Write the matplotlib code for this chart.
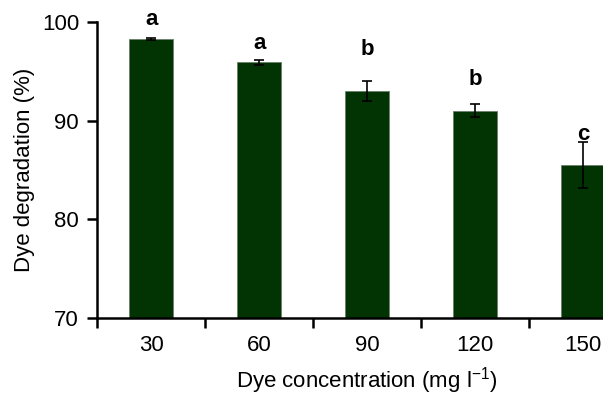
import numpy as np
import matplotlib.pyplot as plt

plt.rcParams['font.family'] = ['Liberation Sans', 'DejaVu Sans']
plt.rcParams['mathtext.fontset'] = 'custom'
plt.rcParams['mathtext.rm'] = 'Liberation Sans'
plt.rcParams['mathtext.default'] = 'regular'

concentrations = ['30', '60', '90', '120', '150']
degradation = [98.25, 95.9, 93.0, 91.0, 85.5]
errors = [0.1, 0.25, 1.0, 0.65, 2.3]
letters = ['a', 'a', 'b', 'b', 'c']

fig = plt.figure(figsize=(6.03, 3.97), dpi=100)
ax = fig.add_axes([0.161, 0.199, 0.8955, 0.746])

x = np.arange(len(concentrations))
ax.bar(x, degradation, width=0.41, color='#023302', edgecolor='#6b7f6b', linewidth=0.6,
       zorder=2)
ax.errorbar(x, degradation, yerr=errors, fmt='none', ecolor='black', elinewidth=1.2,
            capsize=3.5, capthick=1.2, zorder=3)

# significance letters
letter_y = [100.2, 97.8, 97.2, 94.2, 88.6]
for xi, yi, s in zip(x, letter_y, letters):
    ax.text(xi, yi, s, ha='center', va='center', fontsize=16, fontweight='bold')

ax.set_ylim(70, 100)
ax.set_xlim(-0.5, 4.5)
ax.set_yticks([70, 80, 90, 100])
ax.set_xticks(np.arange(-0.5, 5, 1.0))
ax.set_xticklabels([])
ax.set_xticks(x, minor=True)
ax.set_xticklabels(concentrations, minor=True)
ax.tick_params(axis='x', which='minor', length=0, pad=12, labelsize=16)
ax.tick_params(axis='x', which='major', length=7, width=1.8, direction='out')
ax.tick_params(axis='y', length=7, width=1.8, direction='out', labelsize=16, pad=6)

for side in ['top', 'right']:
    ax.spines[side].set_visible(False)
for side in ['left', 'bottom']:
    ax.spines[side].set_linewidth(1.8)

ax.set_ylabel('Dye degradation (%)', fontsize=16, labelpad=5)
ax.set_xlabel('Dye concentration (mg l$^{-1}$)', fontsize=16, labelpad=7)

fig.savefig('out.png', dpi=100)
